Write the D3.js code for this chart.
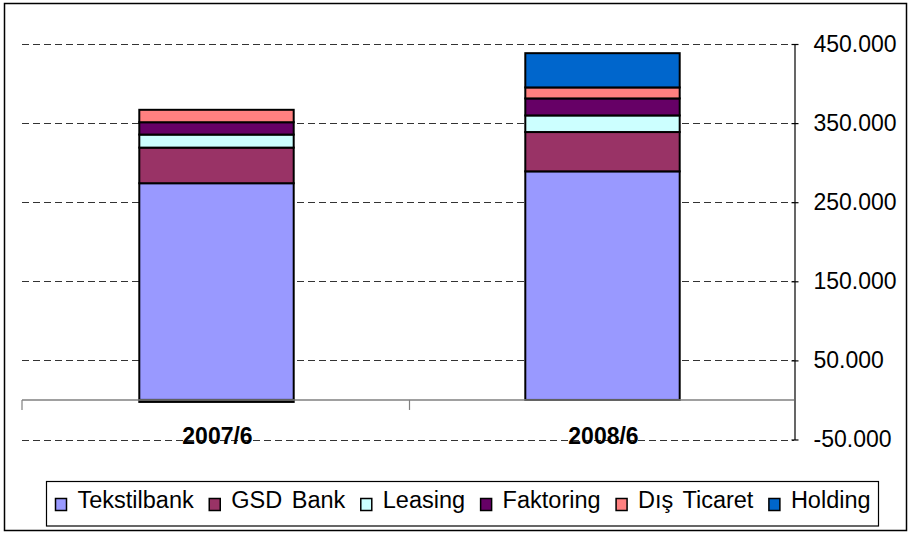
<!DOCTYPE html>
<html>
<head>
<meta charset="utf-8">
<script src="https://cdn.jsdelivr.net/npm/d3@7"></script>
<style>
  html, body { margin: 0; padding: 0; background: #fff; }
  svg { display: block; font-family: "Liberation Sans", Arial, sans-serif; }
</style>
</head>
<body>
<svg id="chart" width="910" height="534"></svg>
<script>
// ---- data ----
const categories = ["2007/6", "2008/6"];
const seriesNames = ["Tekstilbank", "GSD Bank", "Leasing", "Faktoring", "Dış Ticaret", "Holding"];
const tekstilbank = [274000, 289000];
const gsdBank     = [45000, 49700];
const leasing     = [16500, 21000];
const faktoring   = [15600, 21500];
const disTicaret  = [15700, 13900];
const holding     = [-2500, 43300];
const yTicks = [-50000, 50000, 150000, 250000, 350000, 450000];
const colors = ["#9999FF", "#993366", "#CCFFFF", "#660066", "#FF8080", "#0066CC"];

const seriesValues = [tekstilbank, gsdBank, leasing, faktoring, disTicaret, holding];
const table = categories.map((c, i) => {
  const row = { category: c };
  seriesNames.forEach((s, j) => row[s] = seriesValues[j][i]);
  return row;
});

const svg = d3.select("#chart");

// outer frame
svg.append("rect").attr("x", 4.5).attr("y", 3.5).attr("width", 902).attr("height", 527)
  .attr("fill", "none").attr("stroke", "#000").attr("stroke-width", 1.5);

const plotLeft = 22, plotRight = 794;
const x = d3.scaleBand().domain(categories).range([plotLeft + 1.5, plotRight + 1.5]).paddingInner(0).paddingOuter(0);
const y = d3.scaleLinear().domain([-50000, 450000]).range([439.5, 44]);

// gridlines
svg.append("g").selectAll("line").data(yTicks).join("line")
  .attr("x1", plotLeft).attr("x2", plotRight)
  .attr("y1", d => Math.round(y(d)) + 0.5).attr("y2", d => Math.round(y(d)) + 0.5)
  .attr("stroke", "#333").attr("stroke-width", 1.2).attr("stroke-dasharray", "7,4");

// stacked bars
const stack = d3.stack().keys(seriesNames).offset(d3.stackOffsetDiverging);
const stacked = stack(table);
const barW = x.bandwidth() * 0.4;
const layers = svg.append("g").selectAll("g").data(stacked).join("g")
  .attr("fill", (d, i) => colors[i]);
layers.selectAll("rect").data(d => d).join("rect")
  .attr("x", d => x.bandwidth() / 2 + x(d.data.category) - barW / 2)
  .attr("width", barW)
  .attr("y", d => y(Math.max(d[0], d[1])))
  .attr("height", d => Math.abs(y(d[0]) - y(d[1])))
  .attr("stroke", "#000").attr("stroke-width", 2);

// category axis line (at zero)
const y0 = y(0);
svg.append("line").attr("x1", plotLeft).attr("x2", plotRight)
  .attr("y1", y0).attr("y2", y0).attr("stroke", "#808080").attr("stroke-width", 1.5);
// category ticks
const catTicks = [plotLeft, x(categories[1])];
svg.append("g").selectAll("line").data(catTicks).join("line")
  .attr("x1", d => d).attr("x2", d => d)
  .attr("y1", y0).attr("y2", y0 + 10)
  .attr("stroke", "#808080").attr("stroke-width", 1.2);

// category labels
svg.append("g").selectAll("text").data(categories).join("text")
  .attr("x", d => x(d) + x.bandwidth() / 2 + 1)
  .attr("y", 444)
  .attr("text-anchor", "middle")
  .attr("font-size", "23px").attr("font-weight", "bold").attr("fill", "#000")
  .text(d => d);

// value axis on right
const yAxis = d3.axisRight(y).tickValues(yTicks).tickSize(0)
  .tickFormat(d => d3.format(",")(d).replace(/,/g, ".").replace("\u2212", "-"));
const ax = svg.append("g").attr("transform", `translate(${plotRight + 0.5},0)`).call(yAxis);
ax.select(".domain").attr("stroke", "#000").attr("stroke-width", 1.2);
ax.selectAll(".tick line").remove();
ax.selectAll(".tick").append("line").attr("x1", -3).attr("x2", 4).attr("stroke", "#000").attr("stroke-width", 1.2);
ax.selectAll(".tick text")
  .attr("x", 19).attr("dy", "0.32em")
  .attr("font-size", "23px").attr("font-family", "Liberation Sans, Arial, sans-serif")
  .attr("fill", "#000");

// legend
const legend = svg.append("g");
legend.append("rect").attr("x", 46.5).attr("y", 481.5).attr("width", 832).attr("height", 44.5)
  .attr("fill", "#fff").attr("stroke", "#000").attr("stroke-width", 1.2);
let lx = 55;
seriesNames.forEach((s, i) => {
  legend.append("rect").attr("x", lx + 0.5).attr("y", 498.5).attr("width", 11).attr("height", 12)
    .attr("fill", colors[i]).attr("stroke", "#000").attr("stroke-width", 1.5);
  const t = legend.append("text").attr("x", lx + 22.5).attr("y", 508)
    .attr("font-size", "23.5px").attr("word-spacing", "3px").attr("fill", "#000").text(s);
  lx += 22.5 + t.node().getComputedTextLength() + 15;
});
</script>
</body>
</html>
